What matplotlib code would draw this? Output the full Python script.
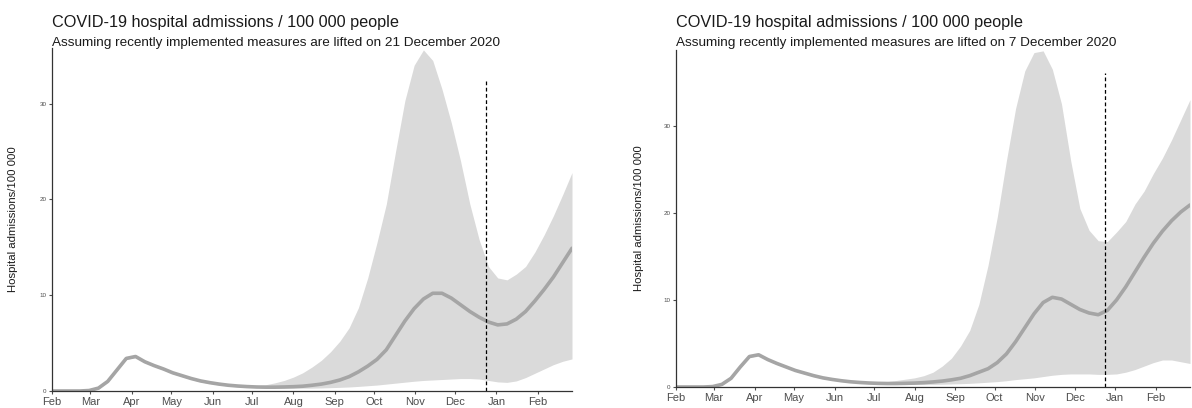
import numpy as np
import pandas as pd
import matplotlib
matplotlib.use("Agg")
import matplotlib.pyplot as plt
import matplotlib.dates as mdates

plt.rcParams['font.family'] = ['Liberation Sans', 'DejaVu Sans']

# weekly dates shared by both panels (1 Feb 2020 .. 27 Feb 2021)
dates = pd.date_range("2020-02-01", "2021-02-27", freq="7D")

# left panel: lifted on 21 December
left_median = [0, 0, 0, 0, 0.05, 0.3, 1.0, 2.2, 3.4, 3.6, 3.05, 2.65, 2.3, 1.9, 1.6, 1.3,
               1.05, 0.87, 0.72, 0.6, 0.52, 0.46, 0.42, 0.4, 0.4, 0.42,
               0.45, 0.5, 0.6, 0.72, 0.9, 1.15, 1.5, 2.0, 2.6, 3.3, 4.3, 5.8, 7.3, 8.6,
               9.6, 10.2, 10.2, 9.7, 9.0, 8.3, 7.7, 7.2, 6.9, 7.0, 7.5, 8.3, 9.4, 10.6,
               11.9, 13.4, 14.9]
left_upper = [0, 0, 0, 0, 0.1, 0.4, 1.1, 2.3, 3.5, 3.7, 3.15, 2.75, 2.4, 2.0, 1.7, 1.4,
              1.15, 0.97, 0.82, 0.7, 0.62, 0.56,
              0.55, 0.65, 0.85, 1.1, 1.45, 1.9, 2.5, 3.2, 4.1, 5.2, 6.6, 8.7, 11.8, 15.5,
              19.5, 25.0, 30.3, 34.0, 35.6, 34.5, 31.5, 28.0, 24.0, 19.5, 15.8, 13.0,
              11.8, 11.6, 12.2, 13.0, 14.5, 16.3, 18.3, 20.5, 22.8]
left_lower = [0, 0, 0, 0, 0, 0.2, 0.9, 2.1, 3.3, 3.5, 2.95, 2.55, 2.2, 1.8, 1.5, 1.2,
              0.95, 0.78, 0.63, 0.52, 0.44, 0.38,
              0.35, 0.32, 0.3, 0.3, 0.3, 0.3, 0.3, 0.32, 0.35, 0.38, 0.42, 0.48, 0.55,
              0.62, 0.72, 0.82, 0.92, 1.02, 1.1, 1.15, 1.2, 1.25, 1.3, 1.3, 1.25, 1.1,
              0.95, 0.9, 1.05, 1.4, 1.85, 2.3, 2.75, 3.1, 3.35]

# right panel: lifted on 7 December
right_median = [0, 0, 0, 0, 0.05, 0.3, 1.0, 2.3, 3.5, 3.7, 3.15, 2.7, 2.3, 1.9, 1.6, 1.3,
                1.05, 0.87, 0.72, 0.6, 0.52, 0.46, 0.42, 0.4, 0.4, 0.42,
                0.45, 0.5, 0.58, 0.68, 0.82, 1.0, 1.3, 1.7, 2.1, 2.8, 3.8, 5.2, 6.8, 8.4,
                9.7, 10.3, 10.1, 9.5, 8.9, 8.5, 8.3, 8.8, 10.0, 11.5, 13.2, 14.9, 16.5,
                17.9, 19.1, 20.1, 20.9]
right_upper = [0, 0, 0, 0, 0.1, 0.4, 1.1, 2.4, 3.6, 3.8, 3.25, 2.8, 2.4, 2.0, 1.7, 1.4,
               1.15, 0.97, 0.82, 0.7, 0.62, 0.56,
               0.55, 0.62, 0.75, 0.9, 1.05, 1.3, 1.7, 2.4, 3.3, 4.7, 6.5, 9.5, 14.0, 19.5,
               26.0, 32.0, 36.3, 38.4, 38.6, 36.5, 32.5, 26.0, 20.5, 18.0, 16.8, 16.7,
               17.8, 19.0, 21.0, 22.5, 24.5, 26.3, 28.4, 30.7, 33.0]
right_lower = [0, 0, 0, 0, 0, 0.2, 0.9, 2.2, 3.4, 3.6, 3.05, 2.6, 2.2, 1.8, 1.5, 1.2,
               0.95, 0.78, 0.63, 0.52, 0.44, 0.38,
               0.35, 0.32, 0.3, 0.3, 0.3, 0.3, 0.3, 0.32, 0.35, 0.38, 0.42, 0.48, 0.55,
               0.62, 0.72, 0.85, 0.95, 1.05, 1.2, 1.35, 1.45, 1.5, 1.5, 1.5, 1.45, 1.45,
               1.5, 1.7, 2.0, 2.4, 2.8, 3.1, 3.1, 2.9, 2.7]

lift_line = pd.Timestamp("2020-12-24")
titles = ["COVID-19 hospital admissions / 100 000 people"] * 2
subtitles = ["Assuming recently implemented measures are lifted on 21 December 2020",
             "Assuming recently implemented measures are lifted on 7 December 2020"]
ylims = [35.8, 38.7]
dash_tops = [32.4, 36.1]

fig = plt.figure(figsize=(11.92, 4.08), dpi=100)
W, H = 1192, 408
boxes = [(52, 572, 391, 48), (676, 1190, 387, 50)]  # left, right, bottom, top in px
label_x = [18, 644]

panels = [(left_median, left_upper, left_lower), (right_median, right_upper, right_lower)]

for i, (x0, x1, yb, yt) in enumerate(boxes):
    ax = fig.add_axes([x0 / W, (H - yb) / H, (x1 - x0) / W, (yb - yt) / H])
    med, up, lo = panels[i]
    ax.fill_between(dates, lo, up, color='#dadada', lw=0)
    ax.plot(dates, med, color='#a5a5a5', lw=2.6, solid_capstyle='round')
    ax.vlines(lift_line, 0, dash_tops[i], color='black', lw=0.9, linestyles=(0, (3, 2)))

    ax.set_xlim(pd.Timestamp("2020-02-01"), pd.Timestamp("2021-02-27"))
    ax.set_ylim(0, ylims[i])
    ax.xaxis.set_major_locator(mdates.MonthLocator())
    ax.xaxis.set_major_formatter(mdates.DateFormatter('%b'))
    ax.set_yticks([0, 10, 20, 30])
    ax.tick_params(axis='x', labelsize=8, colors='#4d4d4d', length=2.5, pad=1.5)
    ax.tick_params(axis='y', labelsize=4.5, colors='#4d4d4d', length=2.5, pad=1.5)
    for s in ['top', 'right']:
        ax.spines[s].set_visible(False)
    for s in ['left', 'bottom']:
        ax.spines[s].set_color('#333333')
        ax.spines[s].set_linewidth(0.9)
    ax.set_ylabel('Hospital admissions/100 000', fontsize=8.2, color='#1a1a1a')
    ax.yaxis.set_label_coords((label_x[i] - x0) / (x1 - x0), 0.5)

    fig.text(x0 / W, (H - 27) / H, titles[i], fontsize=11.7, color='#1a1a1a', va='baseline')
    fig.text(x0 / W, (H - 46) / H, subtitles[i], fontsize=9.7, color='#1a1a1a', va='baseline')

fig.savefig('out.png', dpi=100)
